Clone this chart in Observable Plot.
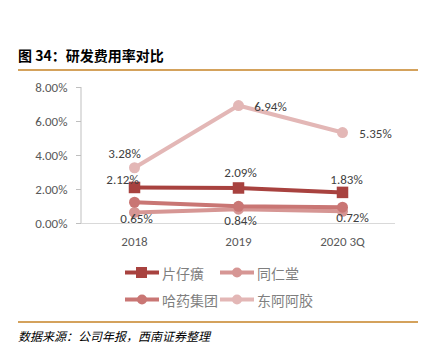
<!DOCTYPE html>
<html><head><meta charset="utf-8">
<script src="https://cdn.jsdelivr.net/npm/d3@7"></script>
<script src="https://cdn.jsdelivr.net/npm/@observablehq/plot@0.6"></script>
<style>
body{margin:0;background:#fff;font-family:"Noto Sans CJK SC","Noto Sans",sans-serif;}
#wrap{position:relative;width:430px;height:352px;overflow:hidden;}
#title{position:absolute;left:18px;top:45px;font-size:14px;font-weight:bold;color:#000;}
.rule{position:absolute;left:18px;width:400px;height:2px;background:#D4A25C;}
#chart{position:absolute;left:0;top:75px;}
#legend{position:absolute;left:0;top:0;}
.li{position:absolute;font-size:14px;color:#7f7f7f;display:flex;align-items:center;white-space:nowrap;}
.li svg{margin-right:3px;flex:none;}
#src{position:absolute;left:18px;top:327px;font-size:12px;font-style:italic;color:#000;}
</style></head>
<body><div id="wrap">
<div id="title">图 34：研发费用率对比</div>
<div class="rule" style="top:69px"></div>
<div id="chart"></div>
<div id="legend"></div>
<div class="rule" style="top:321px"></div>
<div id="src">数据来源：公司年报，西南证券整理</div>
</div>
<script>
const years = ["2018", "2019", "2020 3Q"];
const seriesNames = ["片仔癀", "同仁堂", "哈药集团", "东阿阿胶"];
const pzh = [2.12, 2.09, 1.83];
const trt = [0.65, 0.84, 0.72];
const hy = [1.25, 1.01, 0.96];
const deej = [3.28, 6.94, 5.35];
const colors = ["#A8423F", "#D69694", "#C97674", "#E3B7B6"];
const yTicks = [0, 2, 4, 6, 8];

const values = [pzh, trt, hy, deej];
const data = [];
seriesNames.forEach((s, i) => values[i].forEach((v, j) => data.push({series: s, year: years[j], value: v, idx: j})));

const labelled = {"片仔癀": true, "同仁堂": true, "东阿阿胶": true};
// label placement per series (style, not data)
const place = {
  "东阿阿胶": [[-10, -14], [32, 1], [33, 1]],
  "片仔癀": [[-12, -8], [2, -15], [4, -13]],
  "同仁堂": [[2, 6], [2, 12], [10, 7]]
};
const labels = data.filter(d => labelled[d.series]).map(d => ({...d, dx: place[d.series][d.idx][0], dy: place[d.series][d.idx][1]}));

const colorOf = s => colors[seriesNames.indexOf(s)];
const order = ["同仁堂", "哈药集团", "片仔癀", "东阿阿胶"];

const marks = [
  Plot.ruleY([0], {stroke: "#d9d9d9", strokeWidth: 1}),
  Plot.axisY({ticks: yTicks, tickFormat: d => d.toFixed(2) + "%", tickSize: 5, tickPadding: 9, fontSize: 13, color: "#595959", stroke: "#bfbfbf"}),
  Plot.axisX({tickSize: 0, tickPadding: 13, fontSize: 13, color: "#595959"})
];
order.forEach(s => {
  const d = data.filter(e => e.series === s);
  marks.push(Plot.line(d, {x: "year", y: "value", stroke: colorOf(s), strokeWidth: 4}));
  if (s === "片仔癀") marks.push(Plot.dot(d, {x: "year", y: "value", symbol: "square", r: 6.5, fill: colorOf(s)}));
  else marks.push(Plot.dot(d, {x: "year", y: "value", r: 5.5, fill: colorOf(s)}));
});
labels.forEach(l => {
  marks.push(Plot.text([l], {x: "year", y: "value", text: d => d.value.toFixed(2) + "%", dx: l.dx, dy: l.dy, fontSize: 13, fill: "#404040"}));
});

const chart = Plot.plot({
  width: 430, height: 180,
  marginLeft: 81, marginRight: 35, marginTop: 12, marginBottom: 32,
  style: {fontFamily: "Calibri, 'Liberation Sans', 'DejaVu Sans', sans-serif", background: "transparent"},
  x: {type: "point", domain: years, padding: 0.5, label: null},
  y: {domain: [0, 8], label: null},
  marks
});
const svg = d3.select(chart);
svg.append("line").attr("x1", 81).attr("x2", 81).attr("y1", 12).attr("y2", 148).attr("stroke", "#bfbfbf");
document.getElementById("chart").appendChild(chart);

// legend
const legPos = [[125, 273], [220, 273], [125, 300], [220, 300]];
const leg = document.getElementById("legend");
seriesNames.forEach((s, i) => {
  const div = document.createElement("div");
  div.className = "li";
  div.style.left = legPos[i][0] + "px";
  div.style.top = (legPos[i][1] - 11) + "px";
  const sym = i === 0 ? `<rect x="11" y="5" width="11" height="11" fill="${colors[i]}"/>` : `<circle cx="17" cy="10.5" r="5" fill="${colors[i]}"/>`;
  div.innerHTML = `<svg width="34" height="21"><line x1="0" x2="34" y1="10.5" y2="10.5" stroke="${colors[i]}" stroke-width="4"/>${sym}</svg><span>${s}</span>`;
  leg.appendChild(div);
});
</script>
</body></html>
